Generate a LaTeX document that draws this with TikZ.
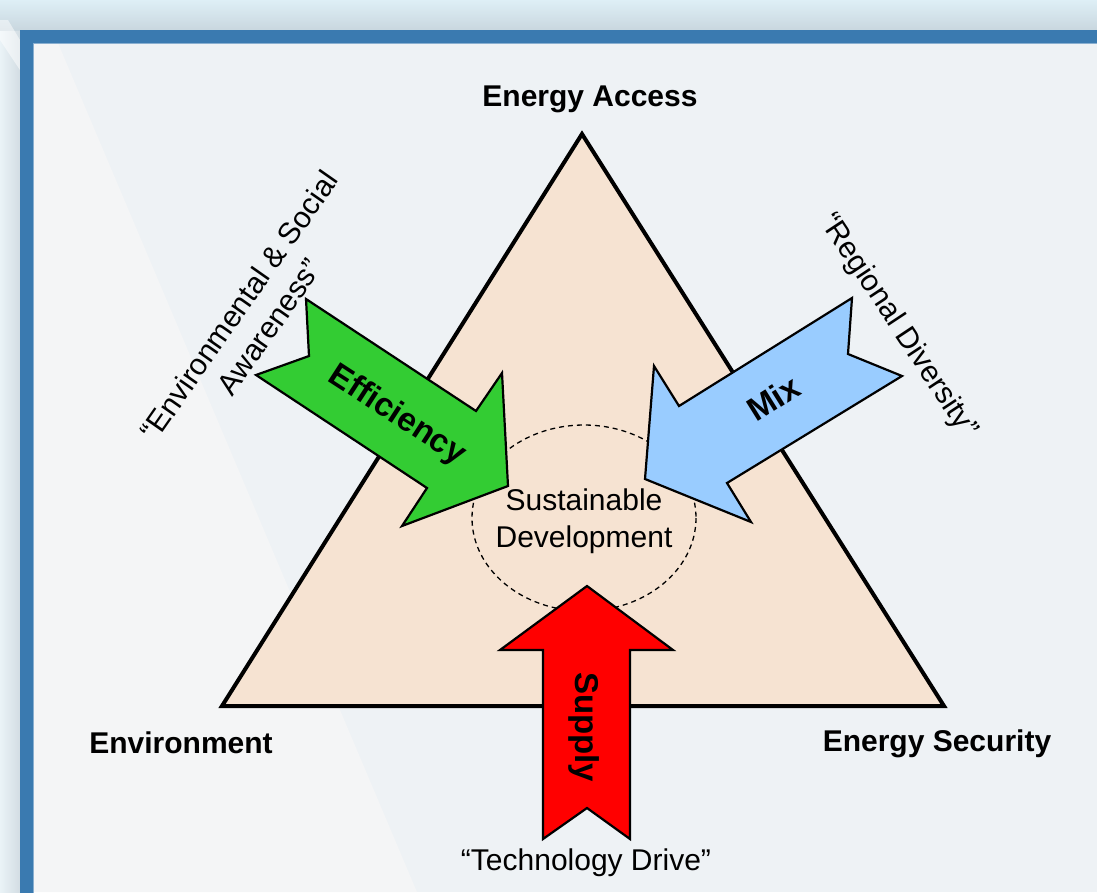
\documentclass[tikz,border=0pt]{standalone}
\usepackage{fontspec}
\setmainfont{Liberation Sans}
\usepackage{xcolor}
\usepackage{tikz}

\definecolor{frameblue}{HTML}{3A7AB0}
\definecolor{panel}{HTML}{EEF2F5}
\definecolor{panellight}{HTML}{F4F5F6}
\definecolor{skytop}{HTML}{DEEFF6}
\definecolor{skyshadow}{HTML}{C8D6DE}
\definecolor{sideleft}{HTML}{EAF3F7}
\definecolor{sideshadow}{HTML}{D3DDE3}
\definecolor{peach}{HTML}{F6E3D2}
\definecolor{effgreen}{HTML}{33CC33}
\definecolor{mixblue}{HTML}{99CCFF}
\definecolor{supred}{HTML}{FF0000}

\tikzset{
  corner/.style={font=\fontsize{30}{36}\selectfont\bfseries, anchor=base},
  quote/.style={font=\fontsize{30}{37}\selectfont, align=center},
  bigarrow/.style={draw=black, line width=2.2, line join=miter},
  arrowlabel/.style={font=\fontsize{33}{40}\selectfont\bfseries}
}

\begin{document}
\begin{tikzpicture}[x=1pt,y=-1pt]
\useasboundingbox (0,0) rectangle (1097,892);
\clip (0,0) rectangle (1097,892);

\fill[color=skytop] (0,0) rectangle (1097,892);
\shade[top color=skytop, bottom color=skyshadow] (0,0) rectangle (1097,31);
\shade[left color=sideleft, right color=sideshadow] (0,31) rectangle (20,892);
\fill[color=white, opacity=0.5] (0,20) -- (8,20) -- (20,40) -- (20,70) -- (0,40) -- cycle;
\fill[panel] (20,30) rectangle (1097,892);
\fill[panellight] (33,43) -- (58,43) -- (417,892) -- (33,892) -- cycle;
\draw[color=frameblue, line width=13] (1110,36.5) -- (26.5,36.5) -- (26.5,905);
\draw[color=frameblue!60!white, line width=1] (1110,43.5) -- (33.5,43.5) -- (33.5,905);

\coordinate (access) at (582,134);
\coordinate (envir) at (222,706);
\coordinate (secur) at (944,706);

\draw[fill=peach, line width=4, line join=miter] (access)--(envir)--(secur)--cycle;

\draw[dash pattern=on 5 off 4, line width=1.3] (584,518) ellipse [x radius=112, y radius=93];

\draw[bigarrow, fill=effgreen] (306,299) -- (476,411) -- (502,373) -- (508,486) -- (402,526) -- (427,488) -- (256,375) -- (309,356) -- cycle;
\draw[bigarrow, fill=mixblue] (852,298) -- (679,406) -- (654,366) -- (645,479) -- (751,522) -- (727,483) -- (902,376) -- (848,354) -- cycle;
\draw[bigarrow, fill=supred] (587,586) -- (673,650) -- (630,650) -- (630,839) -- (587,808) -- (543,839) -- (543,650) -- (500,650) -- cycle;

\node[corner] (accesslabel) at (590,106) {Energy Access};
\node[corner] (envirlabel) at (181,753) {Environment};
\node[corner] (securlabel) at (937,751) {Energy Security};

\node[quote] (sustlabel) at (584,521) {Sustainable\\Development};
\node[quote, anchor=base] (techlabel) at (586,870) {“Technology Drive”};
\node[quote, rotate=55] (awarelabel) at (254,316) {“Environmental \& Social\\Awareness”};
\node[quote, rotate=-56.5] (regionlabel) at (898,326) {“Regional Diversity”};

\node[arrowlabel, rotate=-33] (efflabel) at (397,416) {Efficiency};
\node[arrowlabel, rotate=32] (mixlabel) at (773,398) {Mix};
\node[arrowlabel, rotate=-90] (suplabel) at (584,727) {Supply};

\end{tikzpicture}
\end{document}
